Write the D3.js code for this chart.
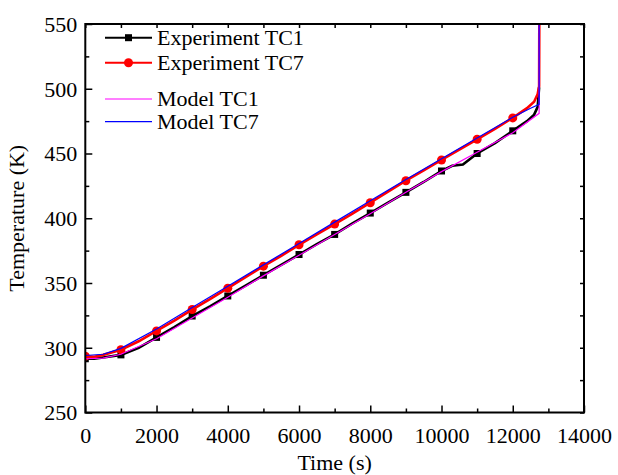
<!DOCTYPE html>
<html><head><meta charset="utf-8">
<script src="https://cdn.jsdelivr.net/npm/d3@7"></script>
<style>body{margin:0;background:#fff}svg{display:block}text{font-family:"Liberation Serif","Times New Roman",serif;fill:#000}</style>
</head><body><svg id="c" width="618" height="475"></svg>
<script>
// Experiment TC1 [time s, temperature K]
const expTC1 = [[0,291.5],[250,291.5],[500,292.5],[1000,294.5],[1500,300],[2000,308],[2500,316],[3000,324.5],[3500,332],[4000,340],[4500,348],[5000,356],[5500,364],[6000,372],[6500,380],[7000,387.5],[7500,396],[8000,404],[8500,412],[9000,420],[9500,428],[10000,436.5],[10300,440.5],[10600,441.5],[11000,450],[11500,458],[12000,467.5],[12400,475],[12600,480],[12700,486],[12740,501]];
const expTC7 = [[0,293.5],[250,293],[500,294.5],[1000,298.5],[1500,305],[2000,313],[2500,321],[3000,329.5],[3500,337.5],[4000,346],[4500,354.5],[5000,363],[5500,371],[6000,379.5],[6500,387.5],[7000,395.5],[7500,403.5],[8000,412],[8500,420.5],[9000,429],[9500,437],[10000,445],[10500,453],[11000,461],[11500,469],[12000,477.5],[12400,485],[12600,490],[12700,496],[12740,502],[12745,550]];
const modelTC1 = [[0,291.5],[500,292],[1000,295],[2000,307],[3000,323],[4000,339],[5000,355.5],[6000,371.5],[7000,387.5],[8000,403.5],[9000,420],[10000,436],[11000,451],[12000,466],[12740,481],[12740,550]];
const modelTC7 = [[0,294],[500,295],[1000,299.5],[2000,314.5],[3000,331],[4000,347.5],[5000,364],[6000,380.5],[7000,397],[8000,413.5],[9000,430],[10000,446],[11000,462],[12000,478],[12500,485],[12740,488],[12740,550]];
const markerTimes = [0,1000,2000,3000,4000,5000,6000,7000,8000,9000,10000,11000,12000];
const xTicks = [0,2000,4000,6000,8000,10000,12000,14000];
const yTicks = [250,300,350,400,450,500,550];
const legendLabels = ["Experiment TC1","Experiment TC7","Model TC1","Model TC7"];

const svg = d3.select("#c");
const L=85.3, R=584, T=24, B=412.5;
const x = d3.scaleLinear().domain([0,14000]).range([L,R]);
const y = d3.scaleLinear().domain([250,550]).range([B,T]);
const clip = svg.append("clipPath").attr("id","cp").append("rect").attr("x",L).attr("y",T-1).attr("width",R-L).attr("height",B-T+1);
const g = svg.append("g").attr("clip-path","url(#cp)");
const line = d3.line().x(d=>x(d[0])).y(d=>y(d[1]));

function valAt(arr,t){ const p = arr.find(d=>d[0]===t); return p?p[1]:null; }

g.append("path").datum(expTC1).attr("d",line).attr("fill","none").attr("stroke","#000").attr("stroke-width",2.6);
g.selectAll(".sq").data(markerTimes).enter().append("rect")
 .attr("x",t=>x(t)-3.5).attr("y",t=>y(valAt(expTC1,t))-3.5).attr("width",7).attr("height",7).attr("fill","#000");
g.append("path").datum(expTC7).attr("d",line).attr("fill","none").attr("stroke","#f00").attr("stroke-width",2.6);
g.selectAll(".ci").data(markerTimes).enter().append("circle")
 .attr("cx",t=>x(t)).attr("cy",t=>y(valAt(expTC7,t))).attr("r",4.5).attr("fill","#f00");
g.append("path").datum(modelTC1).attr("d",line).attr("fill","none").attr("stroke","#ff00ff").attr("stroke-width",1.2);
g.append("path").datum(modelTC7).attr("d",line).attr("fill","none").attr("stroke","#0000ff").attr("stroke-width",1.2);

// axes
const ax = svg.append("g");
const xMinor = d3.range(1000,14000,2000);
const yMinor = d3.range(275,550,50);
// bottom
ax.append("g").attr("transform",`translate(0,${B})`).call(d3.axisBottom(x).tickValues(xTicks).tickSize(-7).tickFormat(d3.format("d")))
 .call(s=>{s.select(".domain").remove(); s.selectAll("line").attr("stroke","#000").attr("stroke-width",1.5);
   s.selectAll("text").attr("font-size",22).attr("dy","0.71em").attr("y",15);});
ax.append("g").attr("transform",`translate(0,${B})`).call(d3.axisBottom(x).tickValues(xMinor).tickSize(-4).tickFormat(""))
 .call(s=>{s.select(".domain").remove(); s.selectAll("line").attr("stroke","#000").attr("stroke-width",1.5);});
// top
ax.append("g").attr("transform",`translate(0,${T})`).call(d3.axisTop(x).tickValues(xTicks.concat(xMinor)).tickSize(-4).tickFormat(""))
 .call(s=>{s.select(".domain").remove(); s.selectAll("line").attr("stroke","#000").attr("stroke-width",1.5);});
// left
ax.append("g").attr("transform",`translate(${L},0)`).call(d3.axisLeft(y).tickValues(yTicks).tickSize(-7).tickFormat(d3.format("d")))
 .call(s=>{s.select(".domain").remove(); s.selectAll("line").attr("stroke","#000").attr("stroke-width",1.5);
   s.selectAll("text").attr("font-size",22).attr("x",-8).attr("dy","0.34em");});
ax.append("g").attr("transform",`translate(${L},0)`).call(d3.axisLeft(y).tickValues(yMinor).tickSize(-4).tickFormat(""))
 .call(s=>{s.select(".domain").remove(); s.selectAll("line").attr("stroke","#000").attr("stroke-width",1.5);});
// right
ax.append("g").attr("transform",`translate(${R},0)`).call(d3.axisRight(y).tickValues(yTicks.concat(yMinor)).tickSize(-4).tickFormat(""))
 .call(s=>{s.select(".domain").remove(); s.selectAll("line").attr("stroke","#000").attr("stroke-width",1.5);});
svg.append("rect").attr("x",L).attr("y",T).attr("width",R-L).attr("height",B-T).attr("fill","none").attr("stroke","#000").attr("stroke-width",2);

svg.append("text").attr("x",(L+R)/2).attr("y",470).attr("text-anchor","middle").attr("font-size",22).text("Time (s)");
svg.append("text").attr("transform",`translate(24,${(T+B)/2}) rotate(-90)`).attr("text-anchor","middle").attr("font-size",22).text("Temperature (K)");

// legend
const ly = [37.7,62.7,99,121.7];
const lg = svg.append("g");
const lcol = ["#000","#f00","#ff00ff","#0000ff"];
legendLabels.forEach((lab,i)=>{
  lg.append("line").attr("x1",105).attr("x2",152).attr("y1",ly[i]).attr("y2",ly[i]).attr("stroke",lcol[i]).attr("stroke-width",i<2?2:1.2);
  if(i===0) lg.append("rect").attr("x",128.5-3.5).attr("y",ly[i]-3.5).attr("width",7).attr("height",7).attr("fill","#000");
  if(i===1) lg.append("circle").attr("cx",128.5).attr("cy",ly[i]).attr("r",4.5).attr("fill","#f00");
  lg.append("text").attr("x",157).attr("y",ly[i]).attr("dy","0.34em").attr("font-size",22).text(lab);
});
</script></body></html>
